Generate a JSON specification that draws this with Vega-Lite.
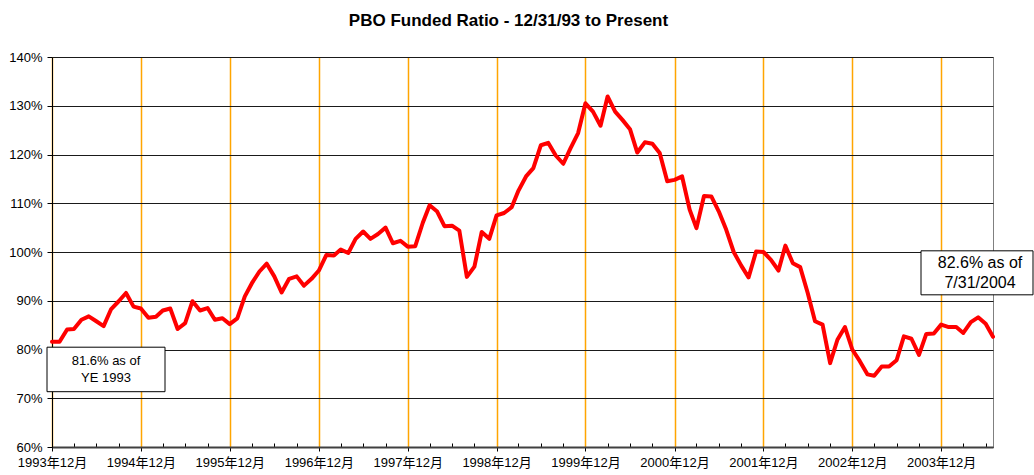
{
  "$schema": "https://vega.github.io/schema/vega-lite/v6.json",
  "width": 941,
  "height": 390,
  "autosize": {"type": "none"},
  "padding": {"left": 52, "top": 57, "right": 41, "bottom": 28},
  "background": "white",
  "config": {
    "font": "Liberation Sans",
    "view": {"stroke": "#808080", "strokeWidth": 1}
  },
  "title": {
    "text": "PBO Funded Ratio - 12/31/93 to Present",
    "font": "Liberation Sans",
    "fontSize": 17,
    "fontWeight": "bold",
    "color": "#000000",
    "anchor": "middle",
    "baseline": "alphabetic",
    "offset": 8,
    "dx": -14
  },
  "data": {
    "values": [
      {"date": "1993-12-01", "value": 81.6},
      {"date": "1994-01-01", "value": 81.6},
      {"date": "1994-02-01", "value": 84.1},
      {"date": "1994-03-01", "value": 84.2},
      {"date": "1994-04-01", "value": 86.1},
      {"date": "1994-05-01", "value": 86.8},
      {"date": "1994-06-01", "value": 85.8},
      {"date": "1994-07-01", "value": 84.8},
      {"date": "1994-08-01", "value": 88.3},
      {"date": "1994-09-01", "value": 89.9},
      {"date": "1994-10-01", "value": 91.6},
      {"date": "1994-11-01", "value": 88.8},
      {"date": "1994-12-01", "value": 88.4},
      {"date": "1995-01-01", "value": 86.5},
      {"date": "1995-02-01", "value": 86.7},
      {"date": "1995-03-01", "value": 88.0},
      {"date": "1995-04-01", "value": 88.4},
      {"date": "1995-05-01", "value": 84.2},
      {"date": "1995-06-01", "value": 85.4},
      {"date": "1995-07-01", "value": 89.9},
      {"date": "1995-08-01", "value": 88.0},
      {"date": "1995-09-01", "value": 88.5},
      {"date": "1995-10-01", "value": 86.1},
      {"date": "1995-11-01", "value": 86.4},
      {"date": "1995-12-01", "value": 85.2},
      {"date": "1996-01-01", "value": 86.4},
      {"date": "1996-02-01", "value": 90.9},
      {"date": "1996-03-01", "value": 93.6},
      {"date": "1996-04-01", "value": 96.0},
      {"date": "1996-05-01", "value": 97.6},
      {"date": "1996-06-01", "value": 95.0},
      {"date": "1996-07-01", "value": 91.7},
      {"date": "1996-08-01", "value": 94.5},
      {"date": "1996-09-01", "value": 95.0},
      {"date": "1996-10-01", "value": 93.1},
      {"date": "1996-11-01", "value": 94.5},
      {"date": "1996-12-01", "value": 96.2},
      {"date": "1997-01-01", "value": 99.4},
      {"date": "1997-02-01", "value": 99.3},
      {"date": "1997-03-01", "value": 100.5},
      {"date": "1997-04-01", "value": 99.8},
      {"date": "1997-05-01", "value": 102.7},
      {"date": "1997-06-01", "value": 104.2},
      {"date": "1997-07-01", "value": 102.7},
      {"date": "1997-08-01", "value": 103.7},
      {"date": "1997-09-01", "value": 105.0},
      {"date": "1997-10-01", "value": 101.8},
      {"date": "1997-11-01", "value": 102.3},
      {"date": "1997-12-01", "value": 101.1},
      {"date": "1998-01-01", "value": 101.2},
      {"date": "1998-02-01", "value": 106.0},
      {"date": "1998-03-01", "value": 109.6},
      {"date": "1998-04-01", "value": 108.3},
      {"date": "1998-05-01", "value": 105.3},
      {"date": "1998-06-01", "value": 105.4},
      {"date": "1998-07-01", "value": 104.4},
      {"date": "1998-08-01", "value": 94.9},
      {"date": "1998-09-01", "value": 97.0},
      {"date": "1998-10-01", "value": 104.1},
      {"date": "1998-11-01", "value": 102.7},
      {"date": "1998-12-01", "value": 107.5},
      {"date": "1999-01-01", "value": 108.0},
      {"date": "1999-02-01", "value": 109.2},
      {"date": "1999-03-01", "value": 112.6},
      {"date": "1999-04-01", "value": 115.5},
      {"date": "1999-05-01", "value": 117.2},
      {"date": "1999-06-01", "value": 121.9},
      {"date": "1999-07-01", "value": 122.4},
      {"date": "1999-08-01", "value": 119.8},
      {"date": "1999-09-01", "value": 118.1},
      {"date": "1999-10-01", "value": 121.3},
      {"date": "1999-11-01", "value": 124.4},
      {"date": "1999-12-01", "value": 130.5},
      {"date": "2000-01-01", "value": 128.8},
      {"date": "2000-02-01", "value": 125.9},
      {"date": "2000-03-01", "value": 131.9},
      {"date": "2000-04-01", "value": 128.8},
      {"date": "2000-05-01", "value": 127.1},
      {"date": "2000-06-01", "value": 125.2},
      {"date": "2000-07-01", "value": 120.4},
      {"date": "2000-08-01", "value": 122.5},
      {"date": "2000-09-01", "value": 122.2},
      {"date": "2000-10-01", "value": 120.3},
      {"date": "2000-11-01", "value": 114.5},
      {"date": "2000-12-01", "value": 114.8},
      {"date": "2001-01-01", "value": 115.5},
      {"date": "2001-02-01", "value": 108.7},
      {"date": "2001-03-01", "value": 104.9},
      {"date": "2001-04-01", "value": 111.5},
      {"date": "2001-05-01", "value": 111.4},
      {"date": "2001-06-01", "value": 108.3},
      {"date": "2001-07-01", "value": 104.6},
      {"date": "2001-08-01", "value": 100.0},
      {"date": "2001-09-01", "value": 97.2},
      {"date": "2001-10-01", "value": 94.8},
      {"date": "2001-11-01", "value": 100.1},
      {"date": "2001-12-01", "value": 100.0},
      {"date": "2002-01-01", "value": 98.4},
      {"date": "2002-02-01", "value": 96.2},
      {"date": "2002-03-01", "value": 101.3},
      {"date": "2002-04-01", "value": 97.7},
      {"date": "2002-05-01", "value": 96.9},
      {"date": "2002-06-01", "value": 91.6},
      {"date": "2002-07-01", "value": 85.8},
      {"date": "2002-08-01", "value": 85.1},
      {"date": "2002-09-01", "value": 77.2},
      {"date": "2002-10-01", "value": 82.0},
      {"date": "2002-11-01", "value": 84.6},
      {"date": "2002-12-01", "value": 80.0},
      {"date": "2003-01-01", "value": 77.6},
      {"date": "2003-02-01", "value": 74.9},
      {"date": "2003-03-01", "value": 74.6},
      {"date": "2003-04-01", "value": 76.5},
      {"date": "2003-05-01", "value": 76.5},
      {"date": "2003-06-01", "value": 77.8},
      {"date": "2003-07-01", "value": 82.7},
      {"date": "2003-08-01", "value": 82.2},
      {"date": "2003-09-01", "value": 78.9},
      {"date": "2003-10-01", "value": 83.2},
      {"date": "2003-11-01", "value": 83.3},
      {"date": "2003-12-01", "value": 85.1},
      {"date": "2004-01-01", "value": 84.6},
      {"date": "2004-02-01", "value": 84.6},
      {"date": "2004-03-01", "value": 83.4},
      {"date": "2004-04-01", "value": 85.6},
      {"date": "2004-05-01", "value": 86.6},
      {"date": "2004-06-01", "value": 85.3},
      {"date": "2004-07-01", "value": 82.6}
    ]
  },
  "encoding": {
    "x": {
      "field": "date",
      "type": "temporal",
      "scale": {
        "type": "utc",
        "domain": [
          {"year": 1993, "month": 12, "date": 1, "utc": true},
          {"year": 2004, "month": 7, "date": 1, "utc": true}
        ]
      },
      "axis": {
        "title": null,
        "values": [
          {"year": 1993, "month": 12, "date": 1, "utc": true},
          {"year": 1994, "month": 3, "date": 1, "utc": true},
          {"year": 1994, "month": 6, "date": 1, "utc": true},
          {"year": 1994, "month": 9, "date": 1, "utc": true},
          {"year": 1994, "month": 12, "date": 1, "utc": true},
          {"year": 1995, "month": 3, "date": 1, "utc": true},
          {"year": 1995, "month": 6, "date": 1, "utc": true},
          {"year": 1995, "month": 9, "date": 1, "utc": true},
          {"year": 1995, "month": 12, "date": 1, "utc": true},
          {"year": 1996, "month": 3, "date": 1, "utc": true},
          {"year": 1996, "month": 6, "date": 1, "utc": true},
          {"year": 1996, "month": 9, "date": 1, "utc": true},
          {"year": 1996, "month": 12, "date": 1, "utc": true},
          {"year": 1997, "month": 3, "date": 1, "utc": true},
          {"year": 1997, "month": 6, "date": 1, "utc": true},
          {"year": 1997, "month": 9, "date": 1, "utc": true},
          {"year": 1997, "month": 12, "date": 1, "utc": true},
          {"year": 1998, "month": 3, "date": 1, "utc": true},
          {"year": 1998, "month": 6, "date": 1, "utc": true},
          {"year": 1998, "month": 9, "date": 1, "utc": true},
          {"year": 1998, "month": 12, "date": 1, "utc": true},
          {"year": 1999, "month": 3, "date": 1, "utc": true},
          {"year": 1999, "month": 6, "date": 1, "utc": true},
          {"year": 1999, "month": 9, "date": 1, "utc": true},
          {"year": 1999, "month": 12, "date": 1, "utc": true},
          {"year": 2000, "month": 3, "date": 1, "utc": true},
          {"year": 2000, "month": 6, "date": 1, "utc": true},
          {"year": 2000, "month": 9, "date": 1, "utc": true},
          {"year": 2000, "month": 12, "date": 1, "utc": true},
          {"year": 2001, "month": 3, "date": 1, "utc": true},
          {"year": 2001, "month": 6, "date": 1, "utc": true},
          {"year": 2001, "month": 9, "date": 1, "utc": true},
          {"year": 2001, "month": 12, "date": 1, "utc": true},
          {"year": 2002, "month": 3, "date": 1, "utc": true},
          {"year": 2002, "month": 6, "date": 1, "utc": true},
          {"year": 2002, "month": 9, "date": 1, "utc": true},
          {"year": 2002, "month": 12, "date": 1, "utc": true},
          {"year": 2003, "month": 3, "date": 1, "utc": true},
          {"year": 2003, "month": 6, "date": 1, "utc": true},
          {"year": 2003, "month": 9, "date": 1, "utc": true},
          {"year": 2003, "month": 12, "date": 1, "utc": true},
          {"year": 2004, "month": 3, "date": 1, "utc": true},
          {"year": 2004, "month": 6, "date": 1, "utc": true}
        ],
        "labelExpr": "utcmonth(datum.value) == 11 ? utcFormat(datum.value, '%Y年%m月') : ''",
        "labelFlush": false,
        "labelOverlap": false,
        "labelFont": "Liberation Sans, Noto Sans CJK SC",
        "labelFontSize": 13,
        "labelColor": "#000000",
        "labelPadding": 5,
        "tickColor": "#000000",
        "tickWidth": 1,
        "tickSize": {"condition": {"test": "utcmonth(datum.value) == 11", "value": 4}, "value": -4},
        "domainColor": "#404040",
        "domainWidth": 2,
        "grid": true,
        "gridColor": {"condition": {"test": "utcmonth(datum.value) == 11", "value": "#FFA500"}, "value": "transparent"},
        "gridWidth": 1.5,
        "gridOpacity": 1
      }
    },
    "y": {
      "field": "value",
      "type": "quantitative",
      "scale": {"domain": [60, 140], "nice": false, "zero": false},
      "axis": {
        "title": null,
        "values": [60, 70, 80, 90, 100, 110, 120, 130, 140],
        "labelExpr": "datum.value + '%'",
        "labelFont": "Liberation Sans",
        "labelFontSize": 13,
        "labelColor": "#000000",
        "labelPadding": 5,
        "tickColor": "#000000",
        "tickSize": 5,
        "domainColor": "#000000",
        "domainWidth": 1,
        "grid": true,
        "gridColor": "#1a1a1a",
        "gridWidth": 1,
        "gridOpacity": 1
      }
    }
  },
  "layer": [
    {
      "mark": {"type": "line", "color": "#FF0000", "strokeWidth": 4, "strokeJoin": "round", "strokeCap": "round", "clip": false}
    },
    {
      "data": {"values": [{"date": "1993-12-01", "value": 81.6, "note": ["81.6% as of", "YE 1993"]}]},
      "layer": [
        {
          "mark": {"type": "rect", "fill": "#FFFFFF", "stroke": "#000000", "strokeWidth": 1, "xOffset": -5, "x2Offset": 113, "yOffset": 5.5, "y2Offset": 50},
          "encoding": {"x2": {"field": "date"}, "y2": {"field": "value"}}
        },
        {
          "mark": {"type": "text", "font": "Liberation Sans", "fontSize": 13, "color": "#000000", "align": "center", "baseline": "middle", "lineHeight": 17, "dx": 54, "dy": 19},
          "encoding": {"text": {"field": "note"}}
        }
      ]
    },
    {
      "data": {"values": [{"date": "2004-07-01", "value": 82.6, "note": ["82.6% as of", "7/31/2004"]}]},
      "layer": [
        {
          "mark": {"type": "rect", "fill": "#FFFFFF", "stroke": "#000000", "strokeWidth": 1, "xOffset": -72, "x2Offset": 40, "yOffset": -86, "y2Offset": -42},
          "encoding": {"x2": {"field": "date"}, "y2": {"field": "value"}}
        },
        {
          "mark": {"type": "text", "font": "Liberation Sans", "fontSize": 16, "color": "#000000", "align": "center", "baseline": "middle", "lineHeight": 20, "dx": -13, "dy": -74},
          "encoding": {"text": {"field": "note"}}
        }
      ]
    }
  ]
}
